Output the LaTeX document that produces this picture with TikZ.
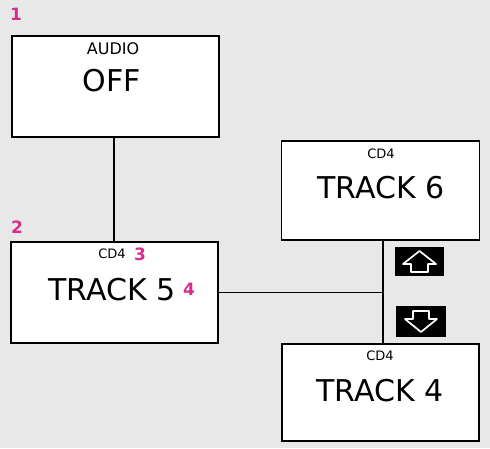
\documentclass[tikz,border=0pt]{standalone}
\usepackage{fontspec}
\setmainfont{DejaVu Sans}
\usepackage{xcolor}
\usetikzlibrary{positioning}
\definecolor{panelgrey}{HTML}{E8E8E8}
\definecolor{callout}{HTML}{D62E8A}

\begin{document}
\begin{tikzpicture}
                \tikzset{x={(1pt, 0pt)}, y={(0pt, -1pt)}}
                \tikzset{screen/.style={draw, line width=1.8pt, fill=white, inner sep=0pt},
                         small/.style={font=\fontsize{13}{13}\selectfont},
                         big/.style={font=\fontsize{30}{30}\selectfont},
                         marker/.style={text=callout, font=\bfseries\fontsize{17}{17}\selectfont},
                         link/.style={line width=1.8pt}}
                \fill[panelgrey] (0, 0) rectangle (490, 448);
                \useasboundingbox (0, 0) rectangle (490, 448);
                \node[screen, minimum width=207pt, minimum height=101pt] (off) at (115.5, 86.5) {};
                \node[screen, minimum width=207pt, minimum height=101pt] (t5) at (114.5, 292.5) {};
                \node[screen, minimum width=198pt, minimum height=99pt] (t6) at (380.5, 190.5) {};
                \node[screen, minimum width=197pt, minimum height=97pt] (t4) at (380.5, 392.5) {};
                \node[font=\fontsize{16}{16}\selectfont] (audio) at (113, 49) {AUDIO};
                \node[big] (offtext) at (112, 81) {OFF};
                \node[small] (cdfive) at (112, 254) {CD4};
                \node[big] (trackfive) at (112, 290) {TRACK 5};
                \node[small] (cdsix) at (381, 154) {CD4};
                \node[big] (tracksix) at (381, 188) {TRACK 6};
                \node[small] (cdfour) at (380, 356) {CD4};
                \node[big] (trackfour) at (380, 391) {TRACK 4};
                \node[marker] (m1) at (16, 14) {1};
                \node[marker] (m2) at (17, 227) {2};
                \node[marker] (m3) at (140, 254) {3};
                \node[marker] (m4) at (189, 289) {4};
                \coordinate (joint) at (383, 292.5);
                \draw[link] (off.south -| 114, 0) -- (t5.north -| 114, 0);
                \draw[link] (t5.east) -- (joint);
                \draw[link] (t6.south -| joint) -- (t4.north -| joint);
                \fill[black] (395, 247) rectangle (444, 276);
                \draw[white, line width=1.7pt, line join=round] (411, 272) -- (411, 264) -- (403, 264) -- (419.5, 251) -- (436, 264) -- (428, 264) -- (428, 272) -- cycle;
                \fill[black] (396, 306) rectangle (446, 337);
                \draw[white, line width=1.7pt, line join=round] (413, 311) -- (413, 319) -- (405, 319) -- (421, 332) -- (437, 319) -- (429, 319) -- (429, 311) -- cycle;
            \end{tikzpicture}
\end{document}
